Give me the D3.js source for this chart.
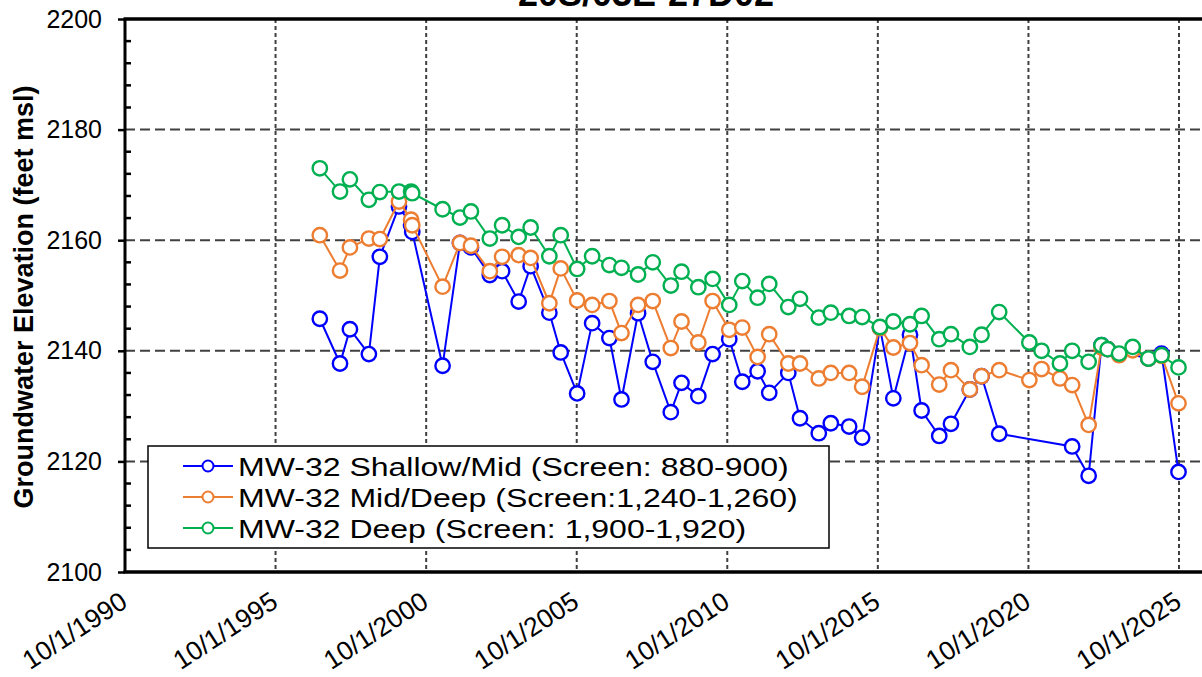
<!DOCTYPE html>
<html>
<head>
<meta charset="utf-8">
<script src="https://cdn.jsdelivr.net/npm/d3@7"></script>
<style>
  html, body { margin: 0; padding: 0; background: #fff; }
  svg { display: block; font-family: "Liberation Sans", Arial, sans-serif; }
</style>
</head>
<body>
<svg id="chart" width="1202" height="677"></svg>
<script>
// Sampling dates (shared by all three wells; null = not measured)
const sampleDates = [
  "1997-03-21","1997-11-21","1998-03-21","1998-11-06","1999-03-19","1999-11-06","2000-04-01","2000-04-15",
  "2001-04-18","2001-11-15","2002-03-28","2002-11-12","2003-04-10","2003-10-28","2004-03-21","2004-11-03",
  "2005-03-21","2005-10-06","2006-04-06","2006-11-01","2007-03-28","2007-10-15","2008-04-10","2008-11-15",
  "2009-03-25","2009-10-15","2010-04-06","2010-10-25","2011-04-01","2011-10-04","2012-02-22","2012-10-10",
  "2013-03-01","2013-10-15","2014-03-10","2014-10-18","2015-03-25","2015-10-27","2016-04-06","2016-10-25",
  "2017-03-15","2017-10-15","2018-03-06","2018-10-21","2019-03-12","2019-10-12","2020-10-12","2021-03-09",
  "2021-10-18","2022-03-15","2022-10-01","2023-03-06","2023-05-20","2023-10-06","2024-03-18","2024-09-25",
  "2025-03-03","2025-09-25"
];

// Groundwater elevation, feet msl
const shallowMid = [
  2145.8,2137.7,2143.9,2139.4,2157.0,2166.1,2162.7,2161.5,
  2137.3,2159.5,2158.7,2153.7,2154.4,2148.9,2155.3,2146.9,
  2139.7,2132.3,2145.0,2142.3,2131.2,2146.8,2138.0,2128.9,
  2134.2,2131.8,2139.4,2142.1,2134.4,2136.3,2132.4,2136.0,
  2127.8,2125.1,2126.9,2126.3,2124.3,2144.2,2131.4,2142.9,
  2129.2,2124.6,2126.8,2133.0,2135.4,2125.0,null,null,
  null,2122.7,2117.4,2141.0,2140.3,null,null,2138.6,
  2139.5,2118.1
];
const midDeep = [
  2160.9,2154.5,2158.7,2160.3,2160.2,2167.0,2163.7,2162.7,
  2151.6,2159.5,2159.0,2154.4,2157.0,2157.3,2156.8,2148.6,
  2154.9,2149.1,2148.3,2149.0,2143.2,2148.3,2149.0,2140.5,
  2145.3,2141.5,2149.0,2143.8,2144.2,2138.9,2143.0,2137.7,
  2137.7,2135.0,2136.0,2136.0,2133.5,2144.1,2140.6,2141.4,
  2137.4,2133.9,2136.5,2133.0,2135.4,2136.5,2134.7,2136.7,
  2135.0,2133.8,2126.6,2140.6,2140.3,2139.2,2140.1,2138.6,
  2139.1,2130.5
];
const deep = [
  2173.0,2168.8,2171.0,2167.3,2168.7,2168.8,2168.8,2168.5,
  2165.6,2164.1,2165.2,2160.3,2162.7,2160.6,2162.3,2157.1,
  2160.9,2154.8,2157.1,2155.5,2155.0,2153.8,2156.0,2151.8,
  2154.3,2151.5,2153.0,2148.3,2152.6,2149.6,2152.1,2147.9,
  2149.4,2146.0,2146.9,2146.3,2146.1,2144.3,2145.3,2144.8,
  2146.3,2142.1,2143.0,2140.7,2142.9,2147.0,2141.5,2140.0,
  2137.7,2140.0,2138.0,2141.0,2140.3,2139.5,2140.7,2138.6,
  2139.2,2137.0
];

const seriesNames = [
  "MW-32 Shallow/Mid (Screen: 880-900)",
  "MW-32 Mid/Deep (Screen:1,240-1,260)",
  "MW-32 Deep (Screen: 1,900-1,920)"
];
const seriesColors = ["#0000FF", "#ED7D31", "#00B050"];

const xTickYears = [1990, 1995, 2000, 2005, 2010, 2015, 2020, 2025];
const yTicks = [2100, 2120, 2140, 2160, 2180, 2200];

const chartTitle = "20S/03E-27D02";
const yTitle = "Groundwater Elevation (feet msl)";

// ---- layout ----
const W = 1202, H = 677;
const plotLeft = 125, plotTop = 19, plotBottom = 572, plotRight = W;

const parse = d3.timeParse("%Y-%m-%d");
const fmt = d => `10/1/${d.getFullYear()}`;

const x = d3.scaleTime()
  .domain([new Date(1990, 9, 1), new Date(2025, 9, 1)])
  .range([plotLeft, 1179]);
const y = d3.scaleLinear().domain([2100, 2200]).range([plotBottom, plotTop]);

const svg = d3.select("#chart");

// gridlines
const grid = svg.append("g");
grid.selectAll("line.h")
  .data(yTicks.filter(v => v > 2100 && v < 2200))
  .join("line")
  .attr("class", "h")
  .attr("x1", plotLeft).attr("x2", plotRight)
  .attr("y1", d => y(d)).attr("y2", d => y(d))
  .attr("stroke", "#404040").attr("stroke-width", 2)
  .attr("stroke-dasharray", "10,5");
grid.selectAll("line.v")
  .data(xTickYears.filter(v => v > 1990))
  .join("line")
  .attr("class", "v")
  .attr("x1", d => x(new Date(d, 9, 1))).attr("x2", d => x(new Date(d, 9, 1)))
  .attr("y1", plotTop).attr("y2", plotBottom)
  .attr("stroke", "#404040").attr("stroke-width", 2)
  .attr("stroke-dasharray", "4,3");

// series
const series = [shallowMid, midDeep, deep].map((vals, i) => ({
  name: seriesNames[i],
  color: seriesColors[i],
  points: sampleDates.map((d, j) => ({ date: parse(d), value: vals[j] }))
    .filter(p => p.value !== null)
}));

const line = d3.line().x(p => x(p.date)).y(p => y(p.value));

series.forEach(s => {
  const g = svg.append("g");
  g.append("path")
    .attr("d", line(s.points))
    .attr("fill", "none")
    .attr("stroke", s.color)
    .attr("stroke-width", 2);
  g.selectAll("circle")
    .data(s.points)
    .join("circle")
    .attr("cx", p => x(p.date))
    .attr("cy", p => y(p.value))
    .attr("r", 7.2)
    .attr("fill", "#fff")
    .attr("stroke", s.color)
    .attr("stroke-width", 2.4);
});

// frame: top border and bottom axis
svg.append("line").attr("x1", plotLeft - 1.5).attr("x2", plotRight).attr("y1", plotTop).attr("y2", plotTop)
  .attr("stroke", "#000").attr("stroke-width", 3.5);
svg.append("line").attr("x1", plotLeft - 1.5).attr("x2", plotRight).attr("y1", plotBottom).attr("y2", plotBottom)
  .attr("stroke", "#000").attr("stroke-width", 3.5);

// y axis with outward majors and inward minors
const yAxis = d3.axisLeft(y).tickValues(yTicks).tickSize(7).tickPadding(16).tickFormat(d3.format("d"));
const ya = svg.append("g").attr("transform", `translate(${plotLeft},0)`).call(yAxis);
ya.select(".domain").attr("stroke-width", 3).attr("d", `M0,${plotTop}V${plotBottom}`);
ya.selectAll(".tick line").attr("stroke-width", 2.5);
ya.selectAll(".tick text").attr("font-size", 25).attr("font-family", "Liberation Sans, Arial, sans-serif").attr("fill", "#000");
const minor = d3.range(2104, 2200, 4).filter(v => v % 20 !== 0);
ya.selectAll("line.minor").data(minor).join("line")
  .attr("class", "minor")
  .attr("x1", 0).attr("x2", 6)
  .attr("y1", d => y(d)).attr("y2", d => y(d))
  .attr("stroke", "#000").attr("stroke-width", 2.5);

// x tick labels, slanted
svg.append("g").selectAll("text")
  .data(xTickYears)
  .join("text")
  .attr("transform", d => `translate(${x(new Date(d, 9, 1)) + 4},${606}) rotate(-33)`)
  .attr("text-anchor", "end")
  .attr("font-size", 26.5)
  .attr("fill", "#000")
  .text(d => fmt(new Date(d, 9, 1)));

// y title
svg.append("text")
  .attr("transform", `translate(33,297) rotate(-90)`)
  .attr("text-anchor", "middle")
  .attr("font-size", 27)
  .attr("font-weight", "bold")
  .text(yTitle);

// chart title (sits at the very top edge)
svg.append("text")
  .attr("x", 646).attr("y", 6)
  .attr("text-anchor", "middle")
  .attr("font-size", 36)
  .attr("font-weight", "bold")
  .text(chartTitle);

// legend: wide lettering on tight rows
const lg = svg.append("g");
lg.append("rect")
  .attr("x", 148).attr("y", 446).attr("width", 681).attr("height", 102)
  .attr("fill", "#fff").attr("stroke", "#000").attr("stroke-width", 1.5);
series.forEach((s, i) => {
  const cy = 466 + i * 31;
  lg.append("line").attr("x1", 183).attr("x2", 233).attr("y1", cy).attr("y2", cy)
    .attr("stroke", s.color).attr("stroke-width", 2);
  lg.append("circle").attr("cx", 208).attr("cy", cy).attr("r", 5.5)
    .attr("fill", "#fff").attr("stroke", s.color).attr("stroke-width", 2);
  const t = lg.append("text").attr("x", 238).attr("y", cy).attr("dy", "0.36em")
    .attr("font-size", 32).attr("fill", "#000")
    .text(s.name);
  const wide = t.node().getComputedTextLength();
  t.attr("font-size", 26.5)
    .attr("textLength", wide)
    .attr("lengthAdjust", "spacingAndGlyphs");
});
</script>
</body>
</html>
